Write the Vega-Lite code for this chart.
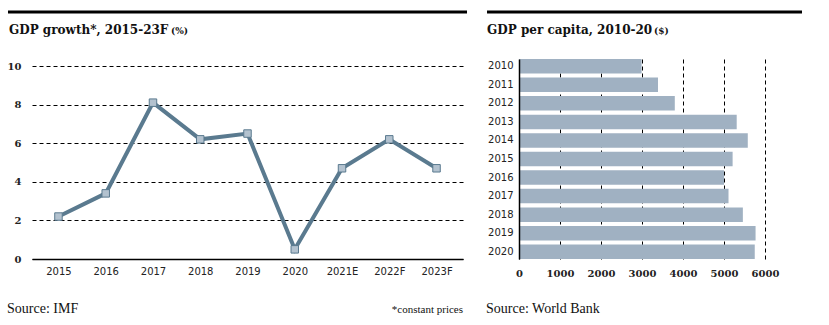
{
  "$schema": "https://vega.github.io/schema/vega-lite/v6.json",
  "background": "white",
  "padding": {"left": 6, "top": 10, "right": 0, "bottom": 0},
  "config": {"view": {"stroke": null}, "font": "DejaVu Sans"},
  "spacing": 16,
  "hconcat": [
    {
      "spacing": 25,
      "vconcat": [
        {
          "width": 431,
          "height": 22,
          "data": {"values": [{"label": "header"}]},
          "layer": [
            {
              "mark": {"type": "rule", "strokeWidth": 3, "color": "black", "strokeCap": "butt", "clip": false},
              "encoding": {
                "x": {"datum": -0.0557, "type": "quantitative", "scale": {"domain": [0, 1]}, "axis": null},
                "x2": {"datum": 1.0093},
                "y": {"datum": 1, "type": "quantitative", "scale": {"domain": [0, 1]}, "axis": null}
              }
            },
            {
              "mark": {"type": "text", "text": "GDP growth*, 2015-23F", "align": "left", "baseline": "alphabetic", "font": "DejaVu Serif", "fontWeight": "bold", "fontSize": 12, "color": "#111"},
              "encoding": {
                "x": {"datum": -0.0534, "type": "quantitative"},
                "y": {"datum": 0, "type": "quantitative"}
              }
            },
            {
              "mark": {"type": "text", "text": "(%)", "align": "left", "baseline": "alphabetic", "font": "DejaVu Serif", "fontWeight": "bold", "fontSize": 9, "color": "#111"},
              "encoding": {
                "x": {"datum": 0.3225, "type": "quantitative"},
                "y": {"datum": 0, "type": "quantitative"}
              }
            }
          ]
        },
        {
          "width": 431,
          "height": 193,
          "data": {
            "values": [
              {"year": "2015", "growth": 2.2},
              {"year": "2016", "growth": 3.4},
              {"year": "2017", "growth": 8.1},
              {"year": "2018", "growth": 6.2},
              {"year": "2019", "growth": 6.5},
              {"year": "2020", "growth": 0.5},
              {"year": "2021E", "growth": 4.7},
              {"year": "2022F", "growth": 6.2},
              {"year": "2023F", "growth": 4.7}
            ]
          },
          "encoding": {
            "x": {
              "field": "year", "type": "ordinal", "sort": null,
              "scale": {"type": "point", "padding": 0.56},
              "axis": {"title": null, "labelAngle": 0, "labelFont": "DejaVu Sans", "labelFontSize": 10, "labelColor": "#222", "labelPadding": 7, "ticks": false, "domainColor": "black", "domainWidth": 1.5, "grid": false}
            },
            "y": {
              "field": "growth", "type": "quantitative",
              "scale": {"domain": [0, 10], "nice": false},
              "axis": {"values": [0, 2, 4, 6, 8, 10], "title": null, "labelFont": "DejaVu Serif", "labelFontWeight": "bold", "labelFontSize": 10, "labelColor": "#222", "labelPadding": 11, "ticks": false, "domain": false, "grid": true, "gridColor": "black", "gridDash": [4, 3], "gridWidth": 1}
            }
          },
          "layer": [
            {"mark": {"type": "line", "color": "#5a7a8f", "strokeWidth": 4}},
            {"mark": {"type": "point", "shape": "square", "filled": true, "fill": "#b3c2cf", "stroke": "#5a7a8f", "strokeWidth": 1, "size": 56, "opacity": 1}}
          ]
        },
        {
          "width": 431,
          "height": 12,
          "data": {"values": [{"label": "footer"}]},
          "layer": [
            {
              "mark": {"type": "text", "text": "Source: IMF", "align": "left", "baseline": "alphabetic", "font": "Liberation Serif", "fontSize": 14, "color": "#111"},
              "encoding": {
                "x": {"datum": -0.058, "type": "quantitative", "scale": {"domain": [0, 1]}, "axis": null},
                "y": {"datum": 0, "type": "quantitative", "scale": {"domain": [0, 1]}, "axis": null}
              }
            },
            {
              "mark": {"type": "text", "text": "*constant prices", "align": "right", "baseline": "alphabetic", "font": "Liberation Serif", "fontSize": 11, "color": "#111"},
              "encoding": {
                "x": {"datum": 1.0, "type": "quantitative"},
                "y": {"datum": 0, "type": "quantitative"}
              }
            }
          ]
        }
      ]
    },
    {
      "spacing": 23,
      "vconcat": [
        {
          "width": 246,
          "height": 22,
          "data": {"values": [{"label": "header"}]},
          "layer": [
            {
              "mark": {"type": "rule", "strokeWidth": 3, "color": "black", "strokeCap": "butt", "clip": false},
              "encoding": {
                "x": {"datum": -0.130, "type": "quantitative", "scale": {"domain": [0, 1]}, "axis": null},
                "x2": {"datum": 1.1504},
                "y": {"datum": 1, "type": "quantitative", "scale": {"domain": [0, 1]}, "axis": null}
              }
            },
            {
              "mark": {"type": "text", "text": "GDP per capita, 2010-20", "align": "left", "baseline": "alphabetic", "font": "DejaVu Serif", "fontWeight": "bold", "fontSize": 12, "color": "#111"},
              "encoding": {
                "x": {"datum": -0.130, "type": "quantitative"},
                "y": {"datum": 0, "type": "quantitative"}
              }
            },
            {
              "mark": {"type": "text", "text": "($)", "align": "left", "baseline": "alphabetic", "font": "DejaVu Serif", "fontWeight": "bold", "fontSize": 9, "color": "#111"},
              "encoding": {
                "x": {"datum": 0.549, "type": "quantitative"},
                "y": {"datum": 0, "type": "quantitative"}
              }
            }
          ]
        },
        {
          "width": 246,
          "height": 200,
          "data": {
            "values": [
              {"year": "2010", "gdp": 2990},
              {"year": "2011", "gdp": 3390},
              {"year": "2012", "gdp": 3800},
              {"year": "2013", "gdp": 5310},
              {"year": "2014", "gdp": 5580},
              {"year": "2015", "gdp": 5210},
              {"year": "2016", "gdp": 5000},
              {"year": "2017", "gdp": 5110},
              {"year": "2018", "gdp": 5460},
              {"year": "2019", "gdp": 5770},
              {"year": "2020", "gdp": 5750}
            ]
          },
          "mark": {"type": "bar", "color": "#a0b1c2"},
          "encoding": {
            "y": {
              "field": "year", "type": "ordinal", "sort": null,
              "scale": {"paddingInner": 0.22, "paddingOuter": 0},
              "axis": {"title": null, "labelFont": "DejaVu Sans", "labelFontSize": 10, "labelColor": "#222", "labelPadding": 6, "ticks": false, "domainColor": "black", "domainWidth": 1.5, "zindex": 1}
            },
            "x": {
              "field": "gdp", "type": "quantitative",
              "scale": {"domain": [0, 6000], "nice": false},
              "axis": {"values": [0, 1000, 2000, 3000, 4000, 5000, 6000], "format": "d", "labelOverlap": false, "labelFlush": false, "title": null, "labelFont": "DejaVu Serif", "labelFontWeight": "bold", "labelFontSize": 10, "labelColor": "#222", "labelPadding": 9, "ticks": false, "domain": false, "grid": true, "gridColor": "black", "gridDash": [4, 3], "gridWidth": 1}
            }
          }
        },
        {
          "width": 246,
          "height": 12,
          "data": {"values": [{"label": "footer"}]},
          "mark": {"type": "text", "text": "Source: World Bank", "align": "left", "baseline": "alphabetic", "font": "Liberation Serif", "fontSize": 14, "color": "#111"},
          "encoding": {
            "x": {"datum": -0.134, "type": "quantitative", "scale": {"domain": [0, 1]}, "axis": null},
            "y": {"datum": 0, "type": "quantitative", "scale": {"domain": [0, 1]}, "axis": null}
          }
        }
      ]
    }
  ]
}
